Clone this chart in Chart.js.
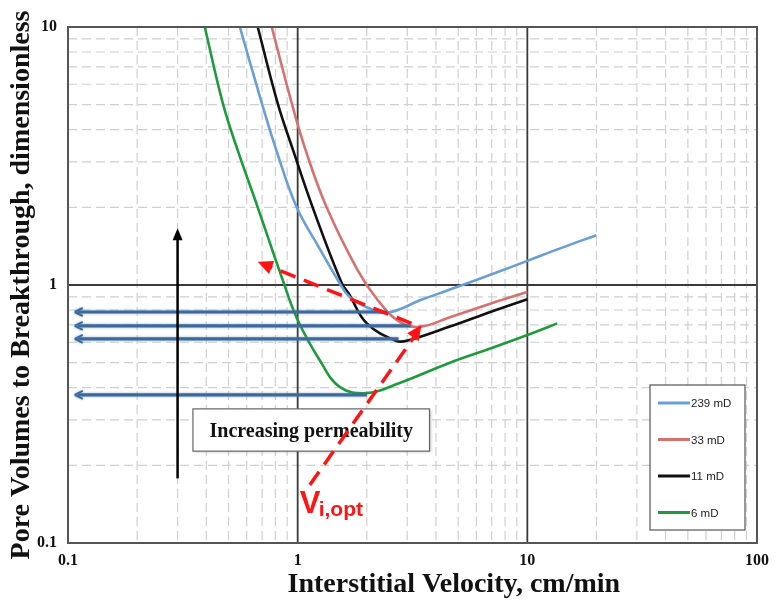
<!DOCTYPE html>
<html>
<head>
<meta charset="utf-8">
<script src="https://cdn.jsdelivr.net/npm/chart.js@4.4.1/dist/chart.umd.min.js"></script>
<style>
  html, body { margin: 0; padding: 0; background: #fff; }
</style>
</head>
<body>
<canvas id="chart" width="776" height="602"></canvas>
<script>
// Pore volumes to breakthrough vs interstitial velocity (log-log)
const X_TICKS = [0.1, 1, 10, 100];
const Y_TICKS = [0.1, 1, 10];
const X_TITLE = 'Interstitial Velocity, cm/min';
const Y_TITLE = 'Pore Volumes to Breakthrough, dimensionless';

const SERIES_LABELS = ['239 mD', '33 mD', '11 mD', '6 mD'];
const SERIES_COLORS = ['#6a9fd5', '#d5726f', '#111111', '#1f9a3e'];

// velocity (cm/min) and pore volumes
const v239  = [0.56, 0.698, 0.81, 0.99, 1.22, 1.52, 1.68, 2.0, 2.44, 3.5, 4.6, 7, 10, 14, 20];
const pv239 = [10, 5.07, 3.3, 2.0, 1.43, 1.02, 0.90, 0.82, 0.78, 0.88, 0.96, 1.10, 1.24, 1.39, 1.56];
const v33   = [0.771, 0.942, 1.083, 1.337, 1.823, 2.23, 2.78, 3.39, 4.6, 7, 10];
const pv33  = [10, 5.07, 3.33, 2.0, 1.143, 0.875, 0.719, 0.688, 0.75, 0.85, 0.94];
const v11   = [0.670, 0.818, 0.955, 1.162, 1.553, 1.683, 1.995, 2.69, 3.07, 4.6, 7, 10];
const pv11  = [10, 5.07, 3.33, 2.0, 1.02, 0.915, 0.712, 0.607, 0.612, 0.69, 0.79, 0.88];
const v6    = [0.394, 0.472, 0.548, 0.670, 0.869, 1.0, 1.246, 1.523, 1.995, 2.78, 4.6, 7, 10, 13.5];
const pv6   = [10, 5.07, 3.33, 2.0, 1.02, 0.732, 0.512, 0.403, 0.381, 0.417, 0.50, 0.57, 0.64, 0.71];

// optimum markers: horizontal arrows from each minimum back to the axis
const OPT_PV = [0.786, 0.694, 0.618, 0.375];
const OPT_V  = [2.45, 3.1, 2.75, 2.0];
const ARROW_TO_V = 0.107;

const SERIF = '"Liberation Serif", "Times New Roman", serif';
const SANS  = '"Liberation Sans", Arial, sans-serif';

function pts(xs, ys) { return xs.map((v, i) => ({ x: v, y: ys[i] })); }

function minors(lo, hi) {
  const out = [];
  for (let d = lo; d < hi; d *= 10)
    for (let k = 2; k <= 9; k++) out.push(+(d * k).toPrecision(3));
  return out;
}

function seg(ctx, x1, y1, x2, y2) {
  ctx.beginPath(); ctx.moveTo(x1, y1); ctx.lineTo(x2, y2); ctx.stroke();
}

function head(ctx, x1, y1, x2, y2, len, half) {
  const ang = Math.atan2(y2 - y1, x2 - x1);
  ctx.beginPath();
  ctx.moveTo(x2, y2);
  ctx.lineTo(x2 - len * Math.cos(ang) + half * Math.sin(ang), y2 - len * Math.sin(ang) - half * Math.cos(ang));
  ctx.lineTo(x2 - len * Math.cos(ang) - half * Math.sin(ang), y2 - len * Math.sin(ang) + half * Math.cos(ang));
  ctx.closePath();
  ctx.fill();
}

const decor = {
  id: 'decor',
  beforeDatasetsDraw(chart) {
    const { ctx, chartArea: a, scales: { x, y } } = chart;
    ctx.save();
    // dashed minor grid
    ctx.strokeStyle = '#d0d0d0';
    ctx.lineWidth = 1.2;
    ctx.setLineDash([9, 5]);
    minors(0.1, 100).forEach(v => { const p = x.getPixelForValue(v); seg(ctx, p, a.top, p, a.bottom); });
    minors(0.1, 10).forEach(v => { const p = y.getPixelForValue(v); seg(ctx, a.left, p, a.right, p); });
    ctx.setLineDash([]);
    // solid decade lines
    ctx.strokeStyle = '#3a3a3a';
    ctx.lineWidth = 1.8;
    [1, 10].forEach(v => { const p = x.getPixelForValue(v); seg(ctx, p, a.top, p, a.bottom); });
    [1].forEach(v => { const p = y.getPixelForValue(v); seg(ctx, a.left, p, a.right, p); });
    ctx.restore();
  },
  afterDatasetsDraw(chart) {
    const { ctx, chartArea: a, scales: { x, y } } = chart;
    const X = v => x.getPixelForValue(v), Y = v => y.getPixelForValue(v);
    ctx.save();

    // frame
    ctx.strokeStyle = '#555';
    ctx.lineWidth = 2;
    ctx.strokeRect(a.left, a.top, a.right - a.left, a.bottom - a.top);

    // blue arrows at each minimum
    ctx.strokeStyle = '#3b6a9b';
    ctx.lineWidth = 3.2;
    ctx.shadowColor = 'rgba(90,130,180,0.6)';
    ctx.shadowBlur = 3;
    OPT_PV.forEach((pv, i) => {
      const py = Y(pv), x1 = X(OPT_V[i]), x0 = X(ARROW_TO_V);
      seg(ctx, x1, py, x0 + 3, py);
      ctx.lineWidth = 2;
      seg(ctx, x0, py, x0 + 8, py - 4);
      seg(ctx, x0, py, x0 + 8, py + 4);
      ctx.lineWidth = 3.2;
    });
    ctx.shadowBlur = 0;
    ctx.shadowColor = 'transparent';

    // black "increasing" arrow
    ctx.strokeStyle = '#000';
    ctx.fillStyle = '#000';
    ctx.lineWidth = 2.5;
    const ax = X(0.3), ay0 = Y(0.178), ay1 = Y(1.66);
    seg(ctx, ax, ay0, ax, ay1 + 8);
    head(ctx, ax, ay0, ax, ay1, 12, 5);

    // label box
    const bx0 = X(0.35), bx1 = X(3.75), by0 = Y(0.331), by1 = Y(0.227);
    ctx.shadowColor = 'rgba(0,0,0,0.35)';
    ctx.shadowBlur = 3;
    ctx.shadowOffsetX = 1;
    ctx.shadowOffsetY = 1;
    ctx.fillStyle = '#fff';
    ctx.fillRect(bx0, by0, bx1 - bx0, by1 - by0);
    ctx.shadowColor = 'transparent';
    ctx.strokeStyle = '#666';
    ctx.lineWidth = 1.2;
    ctx.strokeRect(bx0, by0, bx1 - bx0, by1 - by0);
    ctx.fillStyle = '#111';
    ctx.font = `bold 20px ${SERIF}`;
    ctx.textAlign = 'center';
    ctx.textBaseline = 'alphabetic';
    ctx.fillText('Increasing permeability', (bx0 + bx1) / 2, by1 - 14);

    // red dashed arrows toward the optimum velocity
    ctx.strokeStyle = '#ff1414';
    ctx.fillStyle = '#ff1414';
    ctx.lineWidth = 3.5;
    ctx.setLineDash([16, 9]);
    const r1 = [X(3.13), Y(0.71), X(0.67), Y(1.23)];
    const r2 = [X(1.13), Y(0.168), X(3.46), Y(0.70)];
    seg(ctx, r1[0], r1[1], r1[2] + 10, r1[3] + 4);
    seg(ctx, r2[0], r2[1], r2[2] - 6, r2[3] + 10);
    ctx.setLineDash([]);
    head(ctx, r1[0], r1[1], r1[2], r1[3], 15, 7);
    head(ctx, r2[0], r2[1], r2[2], r2[3], 15, 7);

    // V_i,opt label
    ctx.textAlign = 'left';
    ctx.font = `bold 31px ${SANS}`;
    const vx = X(1.02), vy = Y(0.131);
    ctx.fillText('V', vx, vy);
    ctx.font = `bold 21px ${SANS}`;
    ctx.fillText('i,opt', vx + 19, vy + 3);

    // legend box
    const lw = 95, lh = 145;
    const lx = a.right - 12 - lw, ly = a.bottom - 13 - lh;
    ctx.fillStyle = '#fff';
    ctx.fillRect(lx, ly, lw, lh);
    ctx.strokeStyle = '#555';
    ctx.lineWidth = 1.2;
    ctx.strokeRect(lx, ly, lw, lh);
    ctx.font = `11.5px ${SANS}`;
    ctx.textBaseline = 'middle';
    SERIES_LABELS.forEach((lab, i) => {
      const yy = ly + 18 + i * 36.5;
      ctx.strokeStyle = SERIES_COLORS[i];
      ctx.lineWidth = 3;
      seg(ctx, lx + 8, yy, lx + 40, yy);
      ctx.fillStyle = '#222';
      ctx.fillText(lab, lx + 41, yy + 1);
    });

    ctx.restore();
  },
  afterDraw(chart) {
    // x title sits a little right of the plot centre in the original
    const { ctx, chartArea: a } = chart;
    ctx.save();
    ctx.fillStyle = '#111';
    ctx.font = `bold 28px ${SERIF}`;
    ctx.textAlign = 'center';
    ctx.textBaseline = 'alphabetic';
    ctx.fillText(X_TITLE, a.left + 0.56 * (a.right - a.left), a.bottom + 49);
    ctx.restore();
  }
};

const tickFont = { family: SERIF, size: 16, weight: 'bold' };
const titleFont = { family: SERIF, size: 28, weight: 'bold' };

new Chart(document.getElementById('chart').getContext('2d'), {
  type: 'line',
  data: {
    datasets: [
      { label: SERIES_LABELS[0], data: pts(v239, pv239), borderColor: SERIES_COLORS[0] },
      { label: SERIES_LABELS[1], data: pts(v33, pv33), borderColor: SERIES_COLORS[1] },
      { label: SERIES_LABELS[2], data: pts(v11, pv11), borderColor: SERIES_COLORS[2] },
      { label: SERIES_LABELS[3], data: pts(v6, pv6), borderColor: SERIES_COLORS[3] },
    ]
  },
  options: {
    responsive: false,
    animation: false,
    layout: { padding: { top: 27, right: 19, left: 0, bottom: 0 } },
    elements: {
      point: { radius: 0 },
      line: { borderWidth: 2.6, tension: 0.4, fill: false }
    },
    plugins: { legend: { display: false }, tooltip: { enabled: false } },
    scales: {
      x: {
        type: 'logarithmic', min: 0.1, max: 100,
        grid: { display: false },
        border: { display: false },
        afterBuildTicks: s => { s.ticks = X_TICKS.map(v => ({ value: v })); },
        afterFit: s => { s.height = 59; },
        ticks: { autoSkip: false, maxRotation: 0, padding: 0, color: '#111', font: tickFont, callback: v => String(v) },
        title: { display: false }
      },
      y: {
        type: 'logarithmic', min: 0.1, max: 10,
        grid: { display: false },
        border: { display: false },
        afterBuildTicks: s => { s.ticks = Y_TICKS.map(v => ({ value: v })); },
        afterFit: s => { s.width = 68; },
        ticks: { autoSkip: false, padding: 3, color: '#111', font: tickFont, callback: v => String(v) },
        title: { display: true, text: Y_TITLE, color: '#111', font: titleFont, padding: { top: 5, bottom: 0 } }
      }
    }
  },
  plugins: [decor]
});
</script>
</body>
</html>
